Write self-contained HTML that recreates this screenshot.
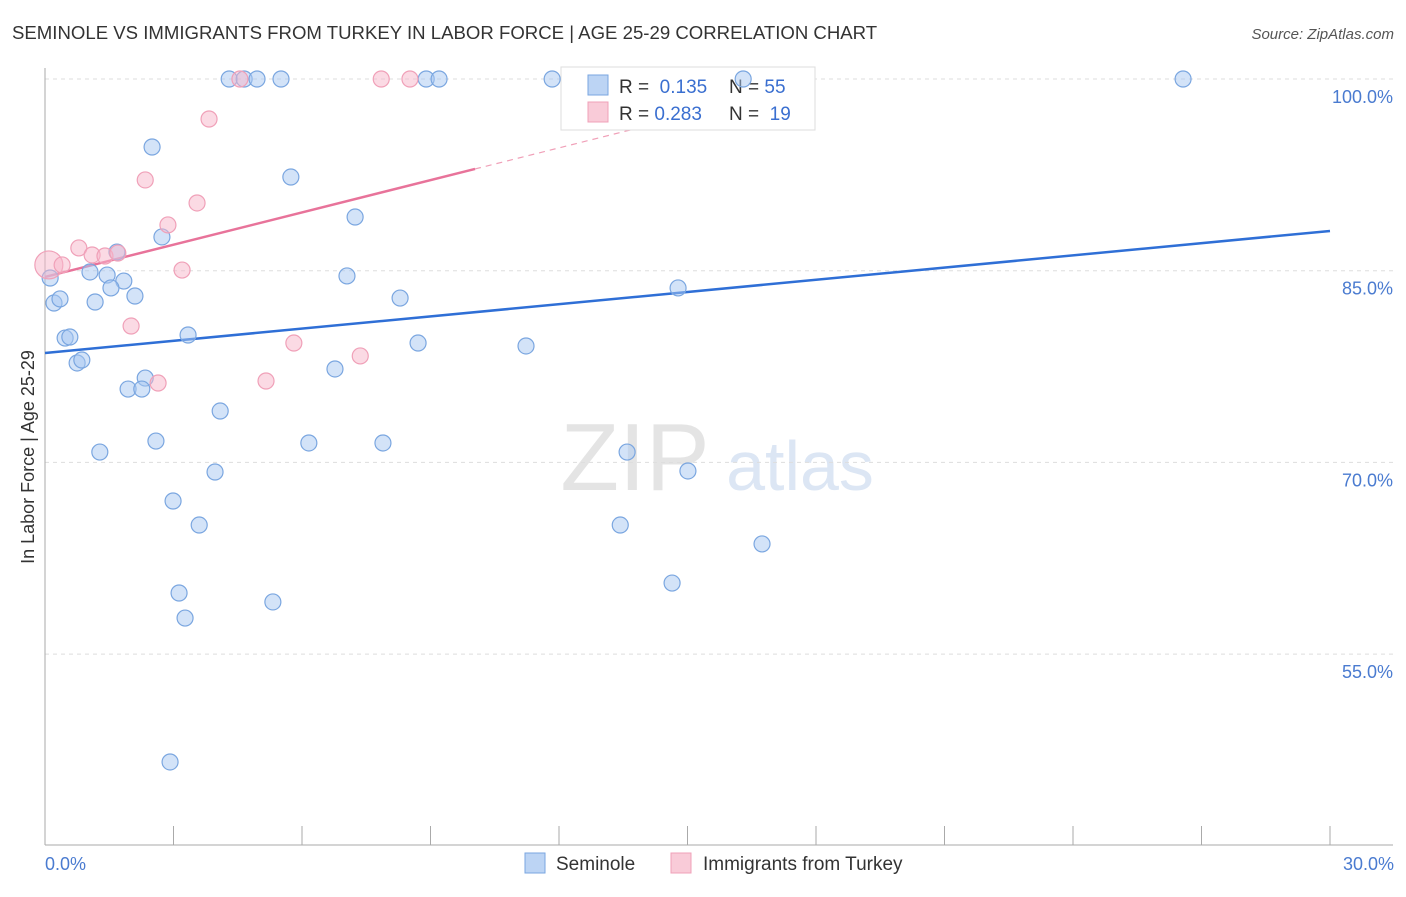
<!DOCTYPE html>
<html><head><meta charset="utf-8"><style>
body{margin:0;background:#fff;font-family:"Liberation Sans",sans-serif;}
svg text{font-family:"Liberation Sans",sans-serif;}
</style></head><body>
<svg id="chart" width="1406" height="892" xmlns="http://www.w3.org/2000/svg">
<text x="12" y="39" font-size="18.6" fill="#333">SEMINOLE VS IMMIGRANTS FROM TURKEY IN LABOR FORCE | AGE 25-29 CORRELATION CHART</text>
<text x="1394" y="39" font-size="15" fill="#555" font-style="italic" text-anchor="end">Source: ZipAtlas.com</text>
<text transform="translate(34,457) rotate(-90)" font-size="18" fill="#333" text-anchor="middle">In Labor Force | Age 25-29</text>
<g>
<text x="635" y="490" font-size="96" fill="#e4e4e4" text-anchor="middle" font-family="Liberation Serif">ZIP</text>
<text x="800" y="490" font-size="70" fill="#dce6f4" text-anchor="middle">atlas</text>
</g>
<g id="grid"></g><g id="axes"></g><g id="trends"></g>
<g>
<rect x="561" y="67" width="254" height="63" fill="#fff" stroke="#ddd"/>
<rect x="588" y="75" width="20" height="20" fill="#bcd4f4" stroke="#7aa6e0"/>
<rect x="588" y="102" width="20" height="20" fill="#f9cbd8" stroke="#f0a0b8"/>
<text x="619" y="93" font-size="19" fill="#333">R = <tspan fill="#3a6fd0">&#160;0.135</tspan></text>
<text x="729" y="93" font-size="19" fill="#333">N = <tspan fill="#3a6fd0">55</tspan></text>
<text x="619" y="120" font-size="19" fill="#333">R = <tspan fill="#3a6fd0">0.283</tspan></text>
<text x="729" y="120" font-size="19" fill="#333">N = <tspan fill="#3a6fd0">&#160;19</tspan></text>
</g>
<g id="points"></g>
<g>
<rect x="525" y="853" width="20" height="20" fill="#bcd4f4" stroke="#7aa6e0"/>
<text x="556" y="870" font-size="19" fill="#333">Seminole</text>
<rect x="671" y="853" width="20" height="20" fill="#f9cbd8" stroke="#f0a0b8"/>
<text x="703" y="870" font-size="19" fill="#333">Immigrants from Turkey</text>
</g>
<text x="45" y="870" font-size="18" fill="#4a7bd0">0.0%</text>
<text x="1394" y="870" font-size="18" fill="#4a7bd0" text-anchor="end">30.0%</text>
</svg>
<script>
const yTicks=[100,85,70,55];
const yTickLabels=["100.0%","85.0%","70.0%","55.0%"];
const blueX=[4.30,4.65,4.95,5.51,8.90,9.20,11.84,16.30,26.57,2.50,5.74,7.24,2.73,1.68,1.05,1.45,1.84,1.54,2.10,7.05,8.29,14.78,0.12,0.21,0.35,1.17,0.47,0.58,3.34,8.71,11.23,0.75,0.86,6.77,2.34,1.94,2.26,4.09,2.59,6.16,7.89,1.28,13.59,15.01,3.97,2.99,3.60,13.43,16.74,14.64,3.13,5.32,3.27,2.92];
const blueY=[100,100,100,100,100,100,100,100,100,94.68,92.33,89.2,87.64,86.46,84.9,84.66,84.19,83.65,83.02,84.59,82.86,83.65,84.43,82.47,82.79,82.55,79.73,79.81,79.97,79.34,79.11,77.78,78.01,77.31,76.6,75.74,75.74,74.02,71.67,71.52,71.52,70.81,70.81,69.33,69.25,66.98,65.1,65.1,63.62,60.56,59.78,59.08,57.82,46.56];
const pinkX=[0.09,0.40,0.79,1.10,1.40,1.70,2.34,2.87,3.55,3.83,3.20,2.01,2.64,4.55,7.85,8.52,5.16,5.81,7.36];
const pinkY=[85.45,85.45,86.78,86.23,86.15,86.38,92.1,88.58,90.3,96.87,85.05,80.67,76.21,100,100,100,76.37,79.34,78.33];
const blueTrend=[78.56,88.11];   // y at x=0 and x=30
const pinkTrend=[84.51,92.96];   // y at x=0 and x=10.04
const pinkSolidEnd=10.04, pinkDashEnd=15.0;
const NS="http://www.w3.org/2000/svg";
const xs=v=>45+v*1285/30, ys=v=>79+(100-v)*191.7/15;
function mk(tag,attrs,parent){const e=document.createElementNS(NS,tag);for(const k in attrs)e.setAttribute(k,attrs[k]);document.getElementById(parent).appendChild(e);return e;}
yTicks.forEach((t,i)=>{
 const l=mk('line',{x1:45,x2:1393,y1:ys(t),y2:ys(t),stroke:'#ddd','stroke-dasharray':'4,4'},'grid');
 
 
 const tx=mk('text',{x:1393,y:ys(t)+24,'font-size':18,fill:'#4a7bd0','text-anchor':'end'},'grid');
 tx.textContent=yTickLabels[i];
 
 
});
let ax=mk('line',{x1:45,x2:45,y1:68,y2:845,stroke:'#aaa'},'axes');


ax=mk('line',{x1:45,x2:1393,y1:845,y2:845,stroke:'#aaa'},'axes');


for(let i=1;i<=10;i++){const t=mk('line',{x1:xs(i*3),x2:xs(i*3),y1:826,y2:845,stroke:'#aaa'},'axes');
 
 }
let tl=mk('line',{x1:xs(0),y1:ys(blueTrend[0]),x2:xs(30),y2:ys(blueTrend[1]),stroke:'#2f6fd6','stroke-width':2.5},'trends');


const ps=(pinkTrend[1]-pinkTrend[0])/pinkSolidEnd;
tl=mk('line',{x1:xs(0),y1:ys(pinkTrend[0]),x2:xs(pinkSolidEnd),y2:ys(pinkTrend[1]),stroke:'#e8739a','stroke-width':2.5},'trends');


tl=mk('line',{x1:xs(pinkSolidEnd),y1:ys(pinkTrend[1]),x2:xs(pinkDashEnd),y2:ys(pinkTrend[0]+ps*pinkDashEnd),stroke:'#f0a0b8','stroke-width':1.2,'stroke-dasharray':'6,5'},'trends');


blueX.forEach((x,i)=>{const c=mk('circle',{cx:xs(x),cy:ys(blueY[i]),r:8,fill:'rgba(168,200,242,0.5)',stroke:'#7aa6e0','stroke-width':1.2},'points');
 
 });
pinkX.forEach((x,i)=>{const c=mk('circle',{cx:xs(x),cy:ys(pinkY[i]),r:i==0?14:8,fill:'rgba(248,182,202,0.5)',stroke:'#f0a0b8','stroke-width':1.2},'points');
 
 });
</script>
</body></html>
